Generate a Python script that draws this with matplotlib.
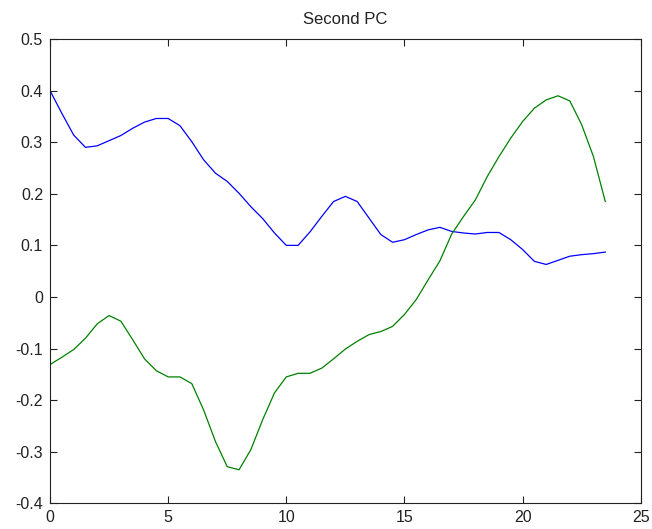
import numpy as np
import matplotlib
matplotlib.use("Agg")
import matplotlib.pyplot as plt

plt.rcParams['font.family'] = ['Liberation Sans', 'DejaVu Sans']

# sample positions (every half unit)
x = np.arange(48) * 0.5

blue_pc = [0.400, 0.356, 0.314, 0.290, 0.293, 0.303, 0.313, 0.327, 0.339, 0.346,
           0.346, 0.332, 0.301, 0.266, 0.240, 0.224, 0.201, 0.175, 0.152, 0.124,
           0.100, 0.100, 0.126, 0.156, 0.185, 0.195, 0.185, 0.153, 0.121, 0.106,
           0.111, 0.121, 0.130, 0.135, 0.127, 0.124, 0.122, 0.125, 0.125, 0.111,
           0.092, 0.069, 0.063, 0.071, 0.079, 0.082, 0.084, 0.087]

green_pc = [-0.131, -0.117, -0.102, -0.080, -0.052, -0.036, -0.047, -0.083, -0.120, -0.143,
            -0.155, -0.155, -0.168, -0.219, -0.280, -0.329, -0.335, -0.296, -0.238, -0.186,
            -0.155, -0.148, -0.148, -0.138, -0.120, -0.101, -0.086, -0.073, -0.067, -0.057,
            -0.034, -0.005, 0.033, 0.070, 0.122, 0.156, 0.188, 0.233, 0.272, 0.308,
            0.340, 0.366, 0.382, 0.390, 0.380, 0.334, 0.272, 0.185]

fig = plt.figure(figsize=(6.52, 5.29), dpi=100)
ax = fig.add_axes([0.0767, 0.0486, 0.906, 0.8776])

ax.plot(x, blue_pc, color=(0, 0, 1), linewidth=0.9)
ax.plot(x, green_pc, color=(0, 0.5, 0), linewidth=0.9)

ax.set_xlim(0, 25)
ax.set_ylim(-0.4, 0.5)
ax.set_xticks(np.arange(0, 26, 5))
ax.set_yticks(np.arange(-0.4, 0.51, 0.1))
ax.set_yticklabels(["-0.4", "-0.3", "-0.2", "-0.1", "0", "0.1", "0.2", "0.3", "0.4", "0.5"])
ax.tick_params(direction="in", length=5, width=0.8, top=True, right=True,
               labelsize=11.5, pad=5, colors="#222222")
for s in ax.spines.values():
    s.set_linewidth(0.8)
    s.set_color("#222222")
ax.set_title("Second PC", fontsize=12, pad=11, color="#222222")

fig.savefig("out.png", dpi=100)
